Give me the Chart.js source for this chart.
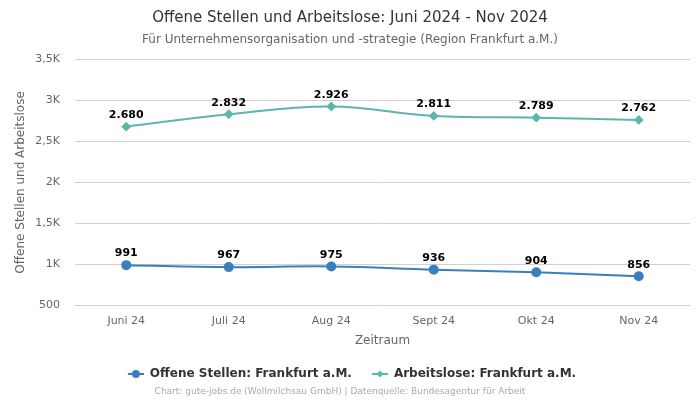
<!DOCTYPE html>
<html><head><meta charset="utf-8">
<script src="https://cdn.jsdelivr.net/npm/chart.js@4/dist/chart.umd.min.js"></script>
<style>html,body{margin:0;padding:0;background:#fff}#wrap{width:700px;height:400px}</style>
</head><body><div id="wrap"><canvas id="c" width="700" height="400"></canvas></div>
<script>
const categories = ["Juni 24", "Juli 24", "Aug 24", "Sept 24", "Okt 24", "Nov 24"];
const offeneStellen = [991, 967, 975, 936, 904, 856];
const arbeitslose = [2680, 2832, 2926, 2811, 2789, 2762];
const yTicks = {500: "500", 1000: "1K", 1500: "1,5K", 2000: "2K", 2500: "2,5K", 3000: "3K", 3500: "3,5K"};
const seriesNames = ["Offene Stellen: Frankfurt a.M.", "Arbeitslose: Frankfurt a.M."];

const FONT = "'DejaVu Sans', sans-serif";
const blue = "#3a7fbd", teal = "#5cb6ae";

function legendIcon(color, style) {
  const c = document.createElement('canvas');
  c.width = 20; c.height = 10;
  const x = c.getContext('2d');
  const o = 4;
  x.strokeStyle = color; x.lineWidth = 2;
  x.beginPath(); x.moveTo(o, 5); x.lineTo(o + 16, 5); x.stroke();
  x.fillStyle = color;
  if (style === 'circle') { x.beginPath(); x.arc(o + 8, 5, 4, 0, Math.PI * 2); x.fill(); }
  else { x.beginPath(); x.moveTo(o + 8, 1.5); x.lineTo(o + 11.5, 5); x.lineTo(o + 8, 8.5); x.lineTo(o + 4.5, 5); x.closePath(); x.fill(); }
  return c;
}

const fmt = v => v.toLocaleString('de-DE');

const labelPlugin = {
  id: 'labels',
  afterDatasetsDraw(chart) {
    const ctx = chart.ctx;
    ctx.save();
    ctx.font = "bold 11px " + FONT;
    ctx.fillStyle = "#000";
    ctx.textAlign = "center";
    ctx.textBaseline = "bottom";
    chart.data.datasets.forEach((ds, i) => {
      chart.getDatasetMeta(i).data.forEach((pt, j) => {
        ctx.fillText(fmt(ds.data[j]), pt.x, pt.y - 6);
      });
    });
    ctx.restore();
  },
  afterDraw(chart) {
    const ctx = chart.ctx;
    ctx.save();
    ctx.font = "9px " + FONT;
    ctx.fillStyle = "#aaa";
    ctx.textAlign = "center";
    ctx.textBaseline = "middle";
    ctx.fillText("Chart: gute-jobs.de (Wollmilchsau GmbH) | Datenquelle: Bundesagentur für Arbeit", 340, 392);
    ctx.restore();
  }
};

new Chart(document.getElementById('c'), {
  type: 'line',
  data: {
    labels: categories,
    datasets: [
      { label: seriesNames[0], data: offeneStellen, borderColor: blue, backgroundColor: blue,
        pointStyle: 'circle', pointRadius: 4, pointHoverRadius: 4, borderWidth: 2, tension: 0.4 },
      { label: seriesNames[1], data: arbeitslose, borderColor: teal, backgroundColor: teal,
        pointStyle: 'rectRot', pointRadius: 3.5, pointHoverRadius: 3.5, borderWidth: 2, tension: 0.4 }
    ]
  },
  options: {
    responsive: false,
    animation: false,
    layout: { padding: { left: 10, right: 10, top: 0, bottom: 10 } },
    plugins: {
      title: { display: true, text: "Offene Stellen und Arbeitslose: Juni 2024 - Nov 2024",
        font: { family: FONT, size: 15, weight: 'normal' }, color: "#333", padding: { top: 9, bottom: 6 } },
      subtitle: { display: true, text: "Für Unternehmensorganisation und -strategie (Region Frankfurt a.M.)",
        font: { family: FONT, size: 12 }, color: "#666", padding: { bottom: 12 } },
      legend: { position: 'bottom',
        labels: { font: { family: FONT, size: 12, weight: 'bold' }, color: "#333", usePointStyle: true, pointStyleWidth: 20, boxHeight: 10, padding: 16,
          generateLabels(chart) {
            return chart.data.datasets.map((ds, i) => ({
              text: ds.label, fillStyle: ds.borderColor, strokeStyle: ds.borderColor, lineWidth: 0,
              pointStyle: legendIcon(ds.borderColor, i === 0 ? 'circle' : 'rectRot'),
              fontColor: "#333", datasetIndex: i, hidden: false
            }));
          } } },
      tooltip: { enabled: false }
    },
    scales: {
      x: { offset: true, grid: { display: false, drawTicks: false }, border: { display: false },
        ticks: { font: { family: FONT, size: 11 }, color: "#666", padding: 9 },
        title: { display: true, text: "Zeitraum", font: { family: FONT, size: 12 }, color: "#666", padding: { top: -3, bottom: 4 } } },
      y: { min: 500, max: 3500, grid: { color: "#d0d0d0", drawTicks: false }, border: { display: false },
        afterFit(scale) { scale.width = 65; },
        ticks: { stepSize: 500, font: { family: FONT, size: 11 }, color: "#666", padding: 15,
          callback: v => yTicks[v] ?? "" },
        title: { display: true, text: "Offene Stellen und Arbeitslose", font: { family: FONT, size: 12 }, color: "#666" } }
    }
  },
  plugins: [labelPlugin]
});
</script></body></html>
